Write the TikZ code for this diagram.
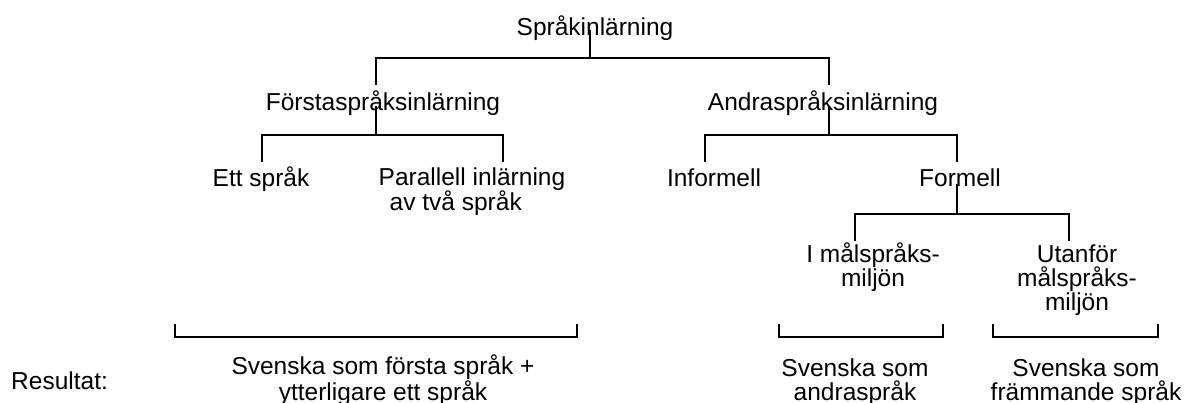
\documentclass[tikz,border=0pt]{standalone}
\usepackage{fontspec}
\setmainfont{Liberation Sans}
\begin{document}
\begin{tikzpicture}[x=1pt,y=-1pt,
  lbl/.style={anchor=base,inner sep=0pt,align=center,font=\fontsize{24.5}{24}\selectfont},
  conn/.style={draw=black,line width=1.3pt}]
\useasboundingbox (0,0) rectangle (1193,403);
% labels (multi-line nodes are placed at the baseline of their last line)
\node[lbl] (root) at (595,36) {Språkinlärning};
\node[lbl] (first) at (383,111) {Förstaspråksinlärning};
\node[lbl] (second) at (823,111) {Andraspråksinlärning};
\node[lbl] (ett) at (261,187) {Ett språk};
\node[lbl,align=left] (par) at (472,211) {Parallell inlärning\\\hspace{11pt}av två språk};
\node[lbl] (inf) at (714,187) {Informell};
\node[lbl] (form) at (960,187) {Formell};
\node[lbl] (imal) at (873,286) {I målspråks-\\miljön};
\node[lbl] (utan) at (1077,310) {Utanför\\målspråks-\\miljön};
\node[lbl,anchor=base west] (res) at (11,389) {Resultat:};
\node[lbl] (r1) at (383,400) {Svenska som första språk +\\ytterligare ett språk};
\node[lbl] (r2) at (855,400) {Svenska som\\andraspråk};
\node[lbl] (r3) at (1086,400) {Svenska som\\främmande språk};
% connectors
\coordinate (j0) at (590,58);
\draw[conn] (590,30) -- (j0);
\draw[conn] (376,85) |- (j0) -| (829,85);
\coordinate (j1) at (376,135);
\draw[conn] (376,106) -- (j1);
\draw[conn] (262,162) |- (j1) -| (503,162);
\coordinate (j2) at (829,135);
\draw[conn] (829,106) -- (j2);
\draw[conn] (705,162) |- (j2) -| (957,162);
\coordinate (j3) at (957,214);
\draw[conn] (957,184) -- (j3);
\draw[conn] (855,241) |- (j3) -| (1069,241);
% brackets
\draw[conn] (175,324) |- (577,337) -- (577,324);
\draw[conn] (779,324) |- (943,337) -- (943,324);
\draw[conn] (993,324) |- (1158,337) -- (1158,324);
\end{tikzpicture}
\end{document}
